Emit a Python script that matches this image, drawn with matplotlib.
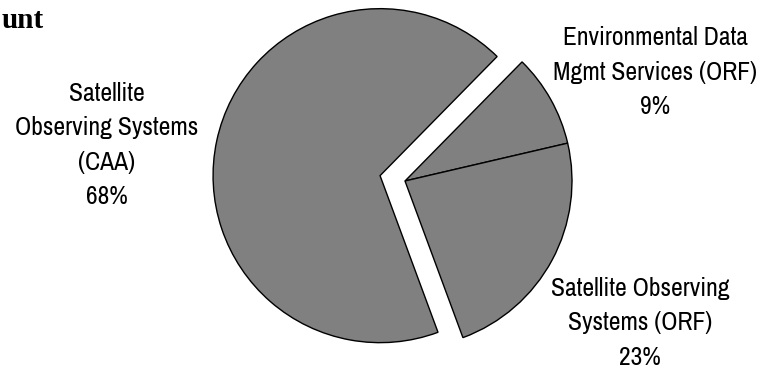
import matplotlib
matplotlib.use("Agg")
import matplotlib.pyplot as plt

categories = ["Environmental Data\nMgmt Services (ORF)",
              "Satellite Observing\nSystems (ORF)",
              "Satellite\nObserving Systems\n(CAA)"]
shares = [9, 23, 68]
title_fragment = "unt"

W, H = 775, 370
fig = plt.figure(figsize=(W / 100, H / 100), dpi=100)
ax = fig.add_axes([0, 0, 1, 1])

wedges, _ = ax.pie(shares, startangle=45.5, counterclock=False,
                   center=(405, H - 181), radius=167,
                   explode=[0, 0, 25.5],
                   colors=["#808080"] * 3,
                   wedgeprops=dict(edgecolor="black", linewidth=1.0),
                   frame=True)
ax.set_xlim(0, W)
ax.set_ylim(0, H)
ax.set_aspect("equal")
ax.axis("off")

font = ["Archivo Narrow", "DejaVu Sans"]
label_pos = [(655, H - 72), (640, H - 323), (107, H - 145)]
for name, val, (x, y) in zip(categories, shares, label_pos):
    ax.text(x, y, f"{name}\n{val}%", ha="center", va="center",
            fontsize=18.4, family=font, linespacing=1.6, color="black")

ax.text(2, H - 21, title_fragment, ha="left", va="center", fontsize=21,
        family=["Liberation Serif", "DejaVu Serif"], fontweight="bold")

fig.savefig("out.png", dpi=100)
